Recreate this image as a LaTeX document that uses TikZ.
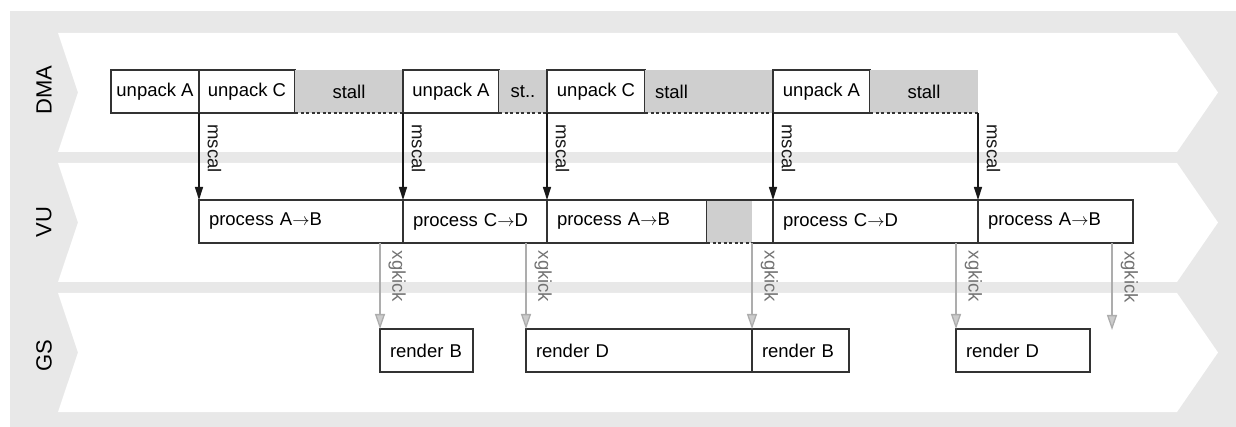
\documentclass[tikz,border=0pt]{standalone}
\usepackage{fontspec}
\setmainfont{Liberation Sans}
\usepackage{tikz}
\usetikzlibrary{arrows.meta}

\begin{document}
\begin{tikzpicture}[x=1pt,y=-1pt,
    task/.style={draw=black!80,line width=1.3pt,fill=white,anchor=north west,outer sep=0pt,inner sep=0pt,minimum height=43pt,font=\fontsize{18.5}{22}\selectfont},
    ltask/.style={task,inner xsep=10pt,align=left},
    stall/.style={task,draw=none,fill=black!19},
    stallline/.style={black!80,line width=1.5pt,dash pattern=on 3pt off 2.5pt},
    lane/.style={fill=white},
    mscal/.style={black!90,line width=1.3pt,-{Triangle[length=13pt,width=8pt]}},
    xgkick/.style={black!32,line width=1.3pt,-{Triangle[length=15pt,width=10pt,fill=black!20]}},
    sig/.style={rotate=-90,anchor=south,inner xsep=0pt,inner ysep=8pt,font=\fontsize{18.5}{22}\selectfont},
    lanename/.style={rotate=90,font=\fontsize{22}{26}\selectfont}]
  \useasboundingbox (0,0) rectangle (1236,427);
  \fill[black!9] (10,11) rectangle (1236,427);
  % lanes
  \foreach \t/\b in {33/152,163/282,293/412}
    \fill[lane] (58,\t) -- (1177,\t) -- (1218,{(\t+\b)/2}) -- (1177,\b) -- (58,\b) -- (78,{(\t+\b)/2}) -- cycle;
  \node[lanename] (ldma) at (44,90) {DMA};
  \node[lanename] (lvu) at (44,222) {VU};
  \node[lanename] (lgs) at (44,356) {GS};

  % DMA
  \node[task,minimum width=88pt] (ua1) at (111,70) {unpack A};
  \node[task,minimum width=96pt] (uc1) at (199,70) {unpack C};
  \node[stall,minimum width=108pt] (st1) at (295,70) {stall};
  \node[task,minimum width=96pt] (ua2) at (403,70) {unpack A};
  \node[stall,minimum width=48pt] (st2) at (499,70) {st..};
  \node[task,minimum width=98pt] (uc2) at (547,70) {unpack C};
  \node[stall,text width=108pt,inner xsep=10pt,align=left] (st3) at (645,70) {stall};
  \node[task,minimum width=97pt] (ua3) at (773,70) {unpack A};
  \node[stall,minimum width=108pt] (st4) at (870,70) {stall};
  \foreach \s in {st1,st2,st3,st4}
    \draw[stallline] (\s.south west) -- (\s.south east);

  % VU
  \node[ltask,text width=184pt] (pab1) at (199,200) {process A$\rightarrow$B};
  \node[ltask,text width=124pt] (pcd1) at (403,200) {process C$\rightarrow$D};
  \node[ltask,text width=140pt] (pab2) at (547,200) {process A$\rightarrow$B};
  \node[stall,minimum width=45pt] (vst1) at (707,200) {};
  \node[ltask,text width=185pt] (pcd2) at (773,200) {process C$\rightarrow$D};
  \node[ltask,text width=135pt] (pab3) at (978,200) {process A$\rightarrow$B};
  \draw[stallline] (vst1.south west) -- (vst1.south east);
  \draw[black!80,line width=1.3pt] (vst1.north west) -- (pcd2.north west)
    (vst1.south east) -- (pcd2.south west);

  % GS
  \node[ltask,text width=73pt] (rb1) at (380,329) {render B};
  \node[ltask,text width=206pt] (rd1) at (526,329) {render D};
  \node[ltask,text width=77pt] (rb2) at (752,329) {render B};
  \node[ltask,text width=114pt] (rd2) at (956,329) {render D};
  \coordinate (k5) at (1112,330);

  % mscal
  \draw[mscal] (ua1.south east) -- (pab1.north west) node[sig,pos=0.41] {mscal};
  \draw[mscal] (ua2.south west) -- (pcd1.north west) node[sig,pos=0.41] {mscal};
  \draw[mscal] (uc2.south west) -- (pab2.north west) node[sig,pos=0.41] {mscal};
  \draw[mscal] (ua3.south west) -- (pcd2.north west) node[sig,pos=0.41] {mscal};
  \draw[mscal] (st4.south east) -- (pab3.north west) node[sig,pos=0.41] {mscal};

  % xgkick
  \draw[xgkick] (rb1.north west |- pab1.south) -- (rb1.north west) node[sig,pos=0.39,text=black!55] {xgkick};
  \draw[xgkick] (rd1.north west |- pcd1.south) -- (rd1.north west) node[sig,pos=0.39,text=black!55] {xgkick};
  \draw[xgkick] (vst1.south east) -- (rb2.north west) node[sig,pos=0.39,text=black!55] {xgkick};
  \draw[xgkick] (rd2.north west |- pcd2.south) -- (rd2.north west) node[sig,pos=0.39,text=black!55] {xgkick};
  \draw[xgkick] (k5 |- pab3.south) -- (k5) node[sig,pos=0.39,text=black!55] {xgkick};
\end{tikzpicture}
\end{document}
